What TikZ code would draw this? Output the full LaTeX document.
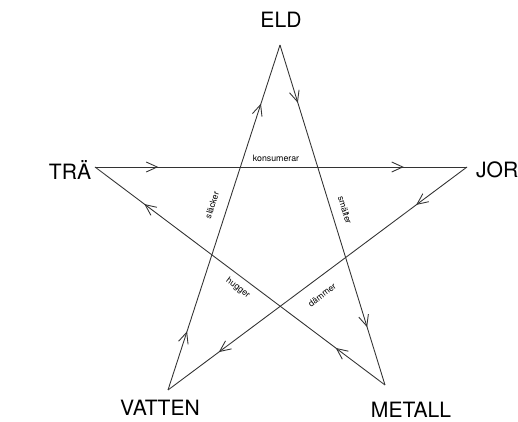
\documentclass[tikz,border=0pt]{standalone}
\usepackage{fontspec}
\setsansfont{TeX Gyre Heros}
\usetikzlibrary{arrows.meta,decorations.markings}

\begin{document}
\begin{tikzpicture}[
					x=0.02cm,y=-0.02cm,
					enode/.style={font=\sffamily\large,inner sep=1pt},
					vnode/.style={font=\sffamily\fontsize{5}{6}\selectfont,inner sep=0.5pt},
					fedge/.style={draw=black!80,line width=0.5pt,postaction={decorate},
						decoration={markings,
							mark=at position 0.17 with {\arrow{Straight Barb[length=2.2mm,width=2mm]}},
							mark=at position 0.83 with {\arrow{Straight Barb[length=2.2mm,width=2mm]}}}}
					]
					\useasboundingbox (0,0) rectangle (518,422);
					% star points
					\coordinate (peld) at (280,45);
					\coordinate (ptra) at (95,167);
					\coordinate (pjord) at (467,167);
					\coordinate (pvatten) at (168,390);
					\coordinate (pmetall) at (385,385);
					% element names
					\node[enode] (eld) at (281,20) {ELD};
					\node[enode] (tra) at (70,170) {TRÄ};
					\node[enode,anchor=west] (jord) at (474,170) {JOR};
					\node[enode] (vatten) at (160,408) {VATTEN};
					\node[enode] (metall) at (411,410) {METALL};
					% cycle
					\foreach \a/\b in {ptra/pjord,pjord/pvatten,pvatten/peld,peld/pmetall,pmetall/ptra}{
						\draw[fedge] (\a) -- (\b);
					}
					% verbs
					\node[vnode] (vkons) at (276,158) {konsumerar};
					\node[vnode,rotate=72] (vslack) at (212,205) {släcker};
					\node[vnode,rotate=-73] (vsmalt) at (345,210) {smälter};
					\node[vnode,rotate=-37] (vhugg) at (238,288) {hugger};
					\node[vnode,rotate=37] (vdamm) at (322,295) {dämmer};
				\end{tikzpicture}
\end{document}
